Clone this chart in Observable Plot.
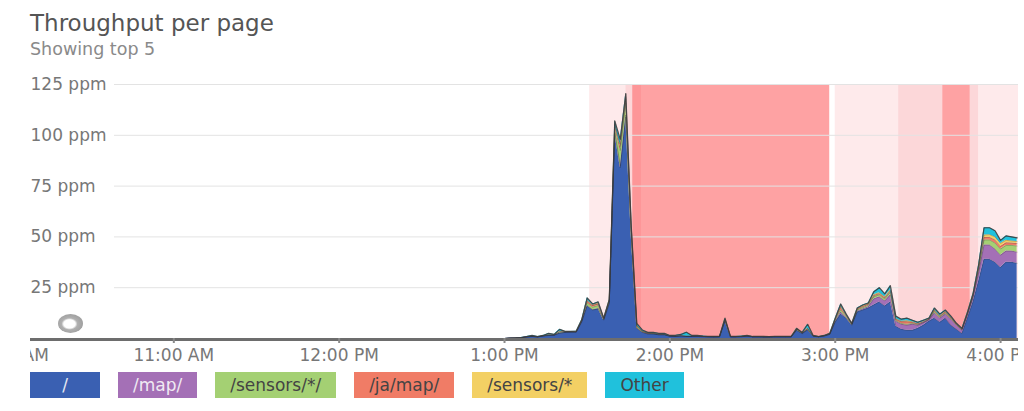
<!DOCTYPE html>
<html>
<head>
<meta charset="utf-8">
<script src="https://cdn.jsdelivr.net/npm/d3@7"></script>
<script src="https://cdn.jsdelivr.net/npm/@observablehq/plot@0.6"></script>
<style>
  html, body { margin: 0; padding: 0; background: #fff; width: 1024px; height: 411px; overflow: hidden; font-family: "DejaVu Sans", sans-serif; }
  #title { position: absolute; left: 30px; top: 8px; font-size: 23px; color: #555; line-height: 30px; white-space: nowrap; }
  #subtitle { position: absolute; left: 30px; top: 38px; font-size: 17.5px; color: #8a8a8a; line-height: 22px; white-space: nowrap; }
  #chart { position: absolute; left: 30px; top: 74px; width: 988px; height: 294px; overflow: hidden; }
  #chart svg { overflow: hidden; }
  #legend { position: absolute; left: 30px; top: 372px; display: flex; gap: 18px; }
  .item { height: 26px; line-height: 26px; min-width: 70px; padding: 0 15px; box-sizing: border-box; text-align: center; font-size: 17px; white-space: nowrap; }
  #icon { position: absolute; left: 58px; top: 314px; width: 25px; height: 19px; border-radius: 50%;
    background: radial-gradient(ellipse at 46% 52%, #fff 0 30%, #b0b0b0 42%, #8f8f8f 100%); }
</style>
</head>
<body>
<div id="title">Throughput per page</div>
<div id="subtitle">Showing top 5</div>
<div id="chart"></div>
<div id="icon"></div>
<div id="legend"></div>
<script>
// ---- data (minutes after 10:00 AM) ----
const times = [8, 100,
  180,182,184,186,188,190,192,194,196,198,
  200,202,204,206,208,210,212,214,216,218,
  220,222,224,226,228,230,232,234,236,238,
  240,242,244,246,248,250,252,254,256,258,
  260,262,264,266,268,270,272,274,276,278,
  280,282,284,286,288,290,292,294,296,298,
  300,302,304,306,308,310,312,314,316,318,
  320,322,324,326,328,330,332,334,336,338,
  340,342,344,346,348,350,352,354,356,358,
  360,362,364,366];

const seriesNames = ["/", "/map/", "/sensors/*/", "/ja/map/", "/sensors/*", "Other"];
const seriesColors = ["#3a60b2", "#a470b6", "#a4d073", "#f07c66", "#f3d064", "#20c1dc"];
const legendText = ["#e6e9f2", "#f0eaf3", "#444", "#444", "#444", "#444"];

const home = [0, 0,
  0,0.2,0.3,0.4,0.8,1.0,0.8,1.2,1.5,1.6,
  2.6,3.0,3.1,3.0,8,16,14,14.5,9,17,
  101,84,109,50,5,3,2.2,2.2,1.8,1.8,
  1.1,1.0,1.2,1.0,1.0,1.0,0.9,0.8,0.8,0.8,
  8.5,0.8,0.8,0.9,1.1,0.8,0.8,0.7,0.8,0.8,
  0.8,0.8,0.8,4.0,2.4,4.2,1.1,0.8,1.2,2.0,
  8,12,10,6.5,13,14,15,16.5,18,16,
  18,6,4.5,4,4,5,6.5,8.5,10,8,
  10,6.5,4.5,2.5,10,18,28,39,39,37.5,
  35,37.5,37.5,37];
const mapPage = [0, 0,
  0,0,0,0,0,0,0,0,0,0,
  0.1,0,0,0.1,0.2,0.3,0.2,0.3,0.1,0.3,
  0.6,1.0,1.0,0.5,0.2,0.1,0.1,0,0,0,
  0,0,0,0,0,0,0,0,0,0,
  0.2,0,0,0,0,0,0,0,0,0,
  0,0,0,0.1,0,0.1,0,0,0,0,
  0.3,1.0,0.3,0.2,0.4,0.5,0.6,3.0,2.5,2.5,
  3.5,2.5,2.5,2.5,3.0,1.5,1.2,0.6,2.5,2.0,
  2.0,3.0,2.0,1.5,1.5,2.0,4.0,7.0,7.0,6.5,
  6.0,5.5,5.5,5.5];
const sensorsDir = [0, 0,
  0,0,0,0,0,0.1,0,0.1,0.2,0.1,
  0.4,0.2,0.2,0.2,0.4,1.3,1.2,1.4,0.4,0.8,
  2.5,7.5,6.0,2.5,0.7,0.3,0.2,0.2,0.2,0.2,
  0.1,0.1,0.2,0.1,0.1,0.1,0.1,0.1,0,0.1,
  0.5,0.1,0.1,0.1,0.2,0.1,0.1,0.1,0,0.1,
  0.1,0.1,0.1,0.4,0.3,0.4,0.2,0.1,0.2,0.2,
  0.6,1.2,0.6,0.3,0.6,0.6,0.7,1.0,1.0,1.0,
  1.2,0.5,0.4,0.5,0.4,0.3,0.2,0.2,0.8,0.5,
  0.6,0.5,0.3,0.3,0.5,0.6,1.5,2.5,2.5,3.0,
  3.0,2.8,2.8,3.0];
const jaMap = [0, 0,
  0,0,0,0,0,0,0,0,0.1,0,
  0.2,0.1,0,0.1,0.2,0.8,0.8,0.8,0.3,0.4,
  1.0,2.0,2.0,1.0,0.3,0.1,0.1,0.1,0.1,0,
  0,0,0,0,0,0.1,0,0,0,0,
  0.3,0,0,0,0,0,0,0,0,0,
  0,0,0,0.2,0.1,0.2,0,0,0,0.1,
  0.4,1.2,0.4,0.2,0.4,0.5,0.5,0.5,0.5,0.5,
  0.6,0.5,0.8,1.2,0.5,0.3,0.2,0.2,0.5,0.3,
  0.4,0.3,0.2,0.2,0.3,0.4,0.6,1.2,1.3,1.5,
  1.3,1.3,1.2,1.2];
const sensorsAny = [0, 0,
  0,0,0,0,0,0,0,0,0,0,
  0.1,0,0,0,0.1,0.4,0.3,0.3,0.1,0.2,
  0.5,1.0,1.0,0.4,0.2,0.1,0,0,0,0,
  0,0,0,0,0,0,0,0,0,0,
  0.1,0,0,0,0,0,0,0,0,0,
  0,0,0,0.1,0,0.1,0,0,0,0,
  0.2,0.6,0.2,0.1,0.3,0.4,0.3,0.5,0.5,0.5,
  0.6,0.3,0.3,0.5,0.3,0.2,0.2,0.1,0.3,0.3,
  0.3,0.2,0.1,0.1,0.2,0.3,0.5,1.2,1.3,1.5,
  1.5,1.2,1.0,1.0];
const other = [0, 0,
  0,0,0,0.1,0.2,0.4,0.2,0.2,0.7,0.3,
  1.1,0.2,0.2,0.2,0.3,1.2,0.5,0.7,0.2,0.4,
  1.5,2.5,1.5,0.6,1.0,0.6,0.4,0.5,0.4,0.5,
  0.3,0.4,0.6,2.0,0.4,0.3,0.2,0.1,0.2,0.1,
  0.4,0.1,0.1,0.2,0.2,0.1,0.1,0.2,0.1,0.1,
  0.1,0.1,0.1,0.2,0.2,2.0,0.2,0.1,0.1,0.2,
  0.5,1.0,0.5,0.2,0.3,0.5,0.4,1.5,2.5,1.5,
  2.1,1.2,1.0,1.3,0.8,0.7,0.7,0.4,0.9,0.9,
  0.7,0.5,0.4,0.4,0.5,0.7,1.4,3.6,3.4,3.0,
  1.5,2.2,2.0,1.8];

// alert bands (minutes after 10:00 AM)
const bandStart = [210.9, 224, 226.5, 229.7, 300, 323, 339, 349, 352];
const bandEnd   = [224, 226.5, 229.7, 298, 323, 339, 349, 352, 366.5];
const bandLevel = ["light", "medium", "dark", "strong", "light", "medium", "strong", "medium", "light"];

const yTicks = [25, 50, 75, 100, 125];
const xTickMinutes = [0, 60, 120, 180, 240, 300, 360];
const xDomainMinutes = [8, 366.5];

// ---- build ----
const base = new Date(2017, 0, 10, 10, 0, 0);
const toDate = m => new Date(base.getTime() + m * 60000);
const seriesValues = [home, mapPage, sensorsDir, jaMap, sensorsAny, other];

const rows = [];
seriesNames.forEach((s, si) => {
  times.forEach((m, i) => rows.push({time: toDate(m), series: s, value: seriesValues[si][i]}));
});
const totals = times.map((m, i) => ({time: toDate(m), value: d3.sum(seriesValues, v => v[i])}));

const bandColors = {light: "#feeaeb", medium: "#fcd7d9", strong: "#fea2a3", dark: "#fd9698"};
const bands = bandStart.map((s, i) => ({start: toDate(s), end: toDate(bandEnd[i]), level: bandLevel[i]}));
const bandMarks = Object.keys(bandColors).map(level =>
  Plot.rect(bands.filter(b => b.level === level), {x1: "start", x2: "end", fill: bandColors[level]})
);

const chart = Plot.plot({
  width: 988,
  height: 294,
  marginTop: 10,
  marginBottom: 30,
  marginLeft: 0,
  marginRight: 0,
  style: {fontFamily: "DejaVu Sans, sans-serif", fontSize: "17px", color: "#777", background: "transparent"},
  x: {type: "time", domain: xDomainMinutes.map(toDate), axis: null},
  y: {domain: [0, 125], axis: null},
  color: {domain: seriesNames, range: seriesColors},
  marks: [
    ...bandMarks,
    Plot.ruleY(yTicks, {stroke: "#e3e3e3", strokeWidth: 1, insetLeft: 84}),
    Plot.areaY(rows, {x: "time", y: "value", fill: "series", z: "series"}),
    Plot.lineY(rows, Plot.stackY2({x: "time", y: "value", z: "series", stroke: "#2a2a2a", strokeOpacity: 0.25, strokeWidth: 1})),
    Plot.lineY(totals, {x: "time", y: "value", stroke: "#3c3c3c", strokeOpacity: 0.85, strokeWidth: 1.2}),
    Plot.ruleY([0], {stroke: "#6d6d6d", strokeWidth: 3, dy: 1}),
    Plot.axisX(xTickMinutes.map(toDate), {
      tickSize: 5, tickPadding: 5, stroke: "#8a8a8a", strokeWidth: 2,
      tickFormat: d3.timeFormat("%-I:%M %p"), fill: "#777", fontSize: 17
    }),
    Plot.text(yTicks, {y: d => d, text: d => `${d} ppm`, frameAnchor: "left", textAnchor: "start", fill: "#777", fontSize: 17})
  ]
});
document.getElementById("chart").appendChild(chart);

const legend = document.getElementById("legend");
seriesNames.forEach((s, i) => {
  const el = document.createElement("div");
  el.className = "item";
  el.style.background = seriesColors[i];
  el.style.color = legendText[i];
  el.textContent = s;
  legend.appendChild(el);
});
</script>
</body>
</html>
